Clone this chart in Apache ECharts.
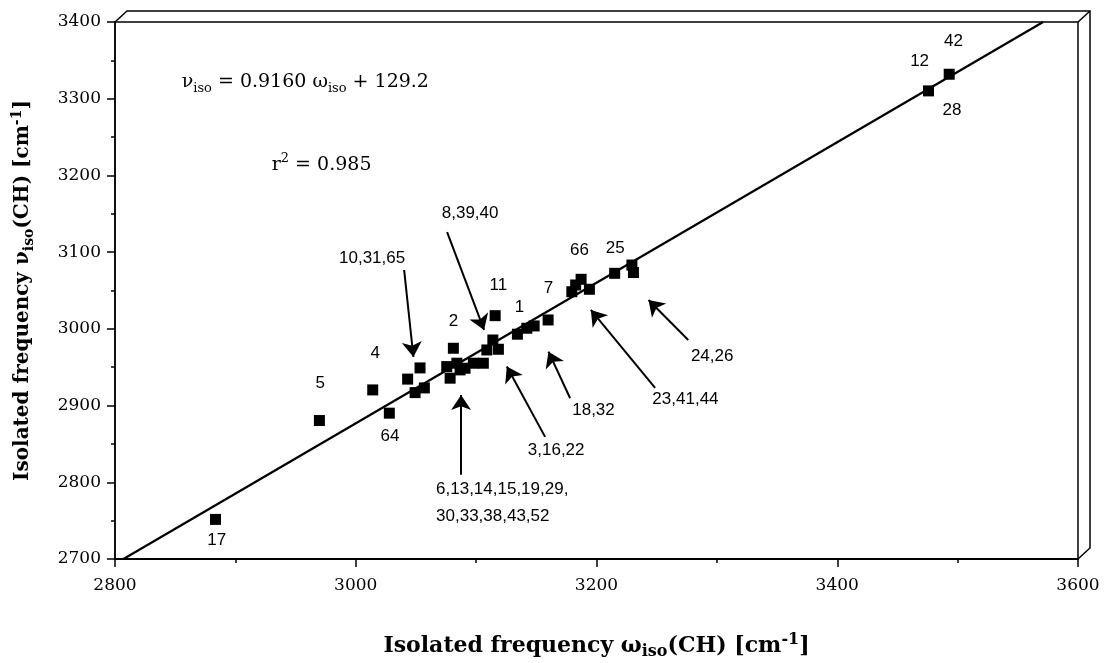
<!DOCTYPE html>
<html><head><meta charset="utf-8">
<script src="https://cdn.jsdelivr.net/npm/echarts@6/dist/echarts.min.js"></script>
<style>html,body{margin:0;padding:0;background:#fff}#c{width:1104px;height:663px}</style>
</head><body><div id="c"></div>
<script>
// ---- data ----
const omegaIso = [2883.5, 2969.8, 3014.1, 3027.9, 3043.1, 3053.4, 3049.3, 3057.0, 3081.1, 3075.6, 3078.4, 3084.0, 3086.7, 3090.8, 3097.7, 3106.0, 3108.9, 3113.9, 3118.5, 3115.8, 3134.3, 3142.1, 3148.2, 3159.8, 3179.5, 3182.7, 3187.2, 3194.1, 3215.1, 3229.4, 3230.7, 3475.8, 3493.0];
const nuIso    = [2751.6, 2880.5, 2920.4, 2890.1, 2934.5, 2949.1, 2916.9, 2923.0, 2974.7, 2950.8, 2935.7, 2955.2, 2946.5, 2948.7, 2955.2, 2955.2, 2972.5, 2985.5, 2973.4, 3017.2, 2993.0, 3000.8, 3003.8, 3011.6, 3048.4, 3057.2, 3064.6, 3051.6, 3072.4, 3083.2, 3073.4, 3310.2, 3331.9];
const fitLine = [[2807, 2700], [3571, 3400]];
const xRange = [2800, 3600];
const yRange = [2700, 3400];
// single-molecule labels: [text, omega, nu]
const pointLabels = [
  ['17', 2884.5, 2724.2], ['5', 2970.4, 2929.2], ['4', 3016.1, 2968.2], ['64', 3028.5, 2859.6],
  ['2', 3081.1, 3010.0], ['11', 3118.5, 3057.2], ['1', 3136.0, 3028.1], ['7', 3160.1, 3052.9],
  ['66', 3185.8, 3102.7], ['25', 3215.5, 3105.0], ['12', 3468.4, 3349.2], ['42', 3496.6, 3375.3],
  ['28', 3495.3, 3285.0]
];
// group labels: [text, omega, nu]
const groupLabels = [
  ['10,31,65', 3013.6, 3092.3], ['8,39,40', 3095.0, 3150.9], ['3,16,22', 3166.5, 2842.3],
  ['18,32', 3197.5, 2893.5], ['23,41,44', 3273.9, 2908.3], ['24,26', 3296.1, 2964.7]
];
const groupLabelLeft = [['6,13,14,15,19,29,\n30,33,38,43,52', 3066.7, 2772.7]];
// arrows: [tail omega, tail nu, head omega, head nu]
const arrows = [
  [3040.2, 3076.7, 3047.9, 2963.4], [3075.9, 3126.2, 3106.6, 2998.6], [3087.5, 2809.8, 3087.5, 2913.9],
  [3157.3, 2859.2, 3125.5, 2950.8], [3178.1, 2909.6, 3160.1, 2970.3], [3248.7, 2923.0, 3195.3, 3024.6],
  [3276.2, 2985.5, 3243.2, 3037.6]
];
const eqText = [['{n|ν}{s|iso}{n| = 0.9160 ω}{s|iso}{n| + 129.2}', 2855.4, 3321.9], ['{n|r}{p|2}{n| = 0.985}', 2930.2, 3213.4]];

const serif = 'DejaVu Serif';
const sans = 'Liberation Sans';
const chart = echarts.init(document.getElementById('c'));
const richTxt = {
  n: {fontFamily: serif, fontSize: 19, color: '#000', lineHeight: 26},
  s: {fontFamily: serif, fontSize: 13, color: '#000', lineHeight: 13, verticalAlign: 'bottom'},
  p: {fontFamily: serif, fontSize: 13, color: '#000', lineHeight: 13, verticalAlign: 'top'}
};
function nameRich(fs) {
  return {
    n: {fontFamily: serif, fontSize: fs, fontWeight: 'bold', color: '#000', lineHeight: fs + 6},
    s: {fontFamily: serif, fontSize: fs - 6, fontWeight: 'bold', color: '#000', lineHeight: fs - 6, verticalAlign: 'bottom'},
    p: {fontFamily: serif, fontSize: fs - 6, fontWeight: 'bold', color: '#000', lineHeight: fs - 6, verticalAlign: 'top'}
  };
}
function textSeries(list, align, font, rich) {
  return {
    type: 'scatter', clip: false, symbolSize: 0, silent: true, z: 5,
    itemStyle: {color: 'transparent', opacity: 1},
    data: list.map(d => ({name: d[0], value: [d[1], d[2]]})),
    label: {show: true, position: 'inside', formatter: p => p.name, align: align, verticalAlign: 'middle',
      color: '#000', opacity: 1, fontFamily: font, fontSize: 17, lineHeight: 27, rich: rich}
  };
}
chart.setOption({
  animation: false,
  grid: {left: 115, right: 26, top: 22, bottom: 104, outerBoundsMode: 'none', containLabel: false,
    show: true, borderColor: '#000', borderWidth: 1.5},
  xAxis: {
    type: 'value', min: xRange[0], max: xRange[1], interval: 200,
    axisLine: {lineStyle: {color: '#000', width: 2}},
    axisTick: {length: 8, lineStyle: {color: '#000', width: 1.5}},
    minorTick: {show: true, splitNumber: 2, length: 4, lineStyle: {color: '#000', width: 1.5}},
    splitLine: {show: false},
    axisLabel: {color: '#000', fontFamily: serif, fontSize: 17, margin: 18, formatter: v => String(v)},
    name: '{n|Isolated frequency ω}{s|iso}{n|(CH) [cm}{p|-1}{n|]}', nameLocation: 'middle', nameGap: 73,
    nameTextStyle: {rich: nameRich(22)}
  },
  yAxis: {
    type: 'value', min: yRange[0], max: yRange[1], interval: 100,
    axisLine: {lineStyle: {color: '#000', width: 1.5}},
    axisTick: {length: 8, lineStyle: {color: '#000', width: 1.5}},
    minorTick: {show: true, splitNumber: 2, length: 4, lineStyle: {color: '#000', width: 1.5}},
    splitLine: {show: false},
    axisLabel: {color: '#000', fontFamily: serif, fontSize: 17, margin: 14, formatter: v => String(v)},
    name: '{n|Isolated frequency ν}{s|iso}{n|(CH) [cm}{p|-1}{n|]}', nameLocation: 'middle', nameGap: 79, nameRotate: 90,
    nameTextStyle: {rich: nameRich(20)}
  },
  series: [
    {type: 'line', data: fitLine, symbol: 'none', lineStyle: {color: '#000', width: 2.2, opacity: 1}, z: 3},
    {type: 'scatter', data: omegaIso.map((x, i) => [x, nuIso[i]]), symbol: 'rect', symbolSize: 11,
      itemStyle: {color: '#000', opacity: 1}, z: 4},
    {type: 'lines', coordinateSystem: 'cartesian2d', symbol: ['none', 'arrow'], symbolSize: [0, 15],
      lineStyle: {color: '#000', width: 2, curveness: 0, opacity: 1}, itemStyle: {color: '#000', opacity: 1}, z: 4,
      data: arrows.map(a => ({coords: [[a[0], a[1]], [a[2], a[3]]]}))},
    textSeries(pointLabels, 'center', sans),
    textSeries(groupLabels, 'center', sans),
    textSeries(groupLabelLeft, 'left', sans),
    textSeries(eqText, 'left', serif, richTxt)
  ]
});
// pseudo-3D frame behind plot
const tl = chart.convertToPixel({gridIndex: 0}, [xRange[0], yRange[1]]);
const tr = chart.convertToPixel({gridIndex: 0}, [xRange[1], yRange[1]]);
const br = chart.convertToPixel({gridIndex: 0}, [xRange[1], yRange[0]]);
const dx = 12, dy = -11;
chart.setOption({graphic: [
  {type: 'polyline', shape: {points: [tl, [tl[0] + dx, tl[1] + dy], [tr[0] + dx, tr[1] + dy], [br[0] + dx, br[1] + dy], br]},
    style: {stroke: '#000', lineWidth: 1.5, fill: null}, z: 10},
  {type: 'line', shape: {x1: tr[0], y1: tr[1], x2: tr[0] + dx, y2: tr[1] + dy}, style: {stroke: '#000', lineWidth: 1.5}, z: 10}
]});
</script>
</body></html>
